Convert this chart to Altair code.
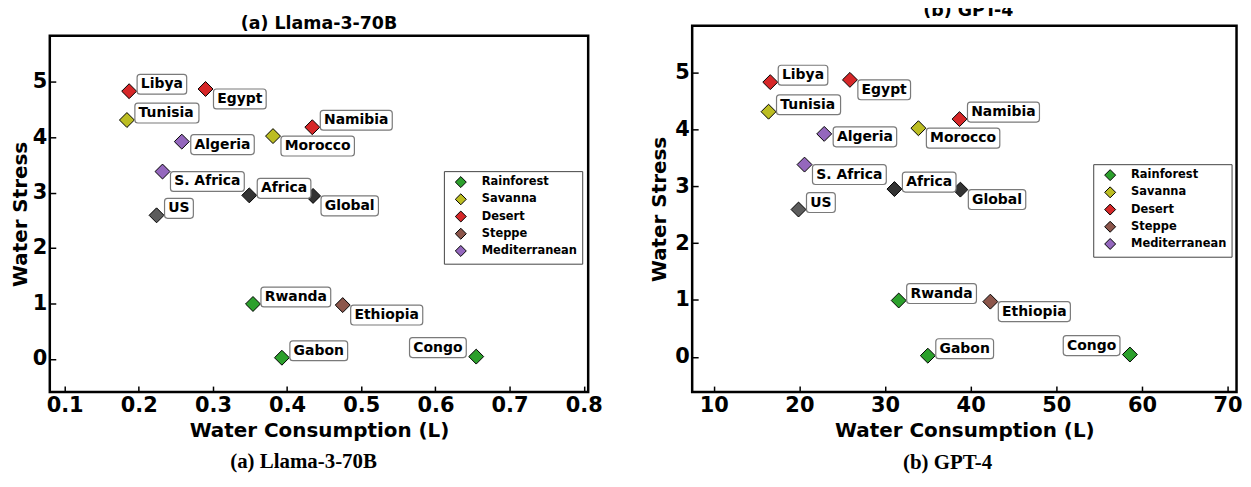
import altair as alt
import pandas as pd

# ---------------- data ----------------
countries = ["Libya", "Egypt", "Tunisia", "Namibia", "Morocco", "Algeria", "S. Africa",
             "Africa", "Global", "US", "Rwanda", "Ethiopia", "Gabon", "Congo"]
climate = ["Desert", "Desert", "Savanna", "Desert", "Savanna", "Mediterranean", "Mediterranean",
           "Aggregate", "Aggregate", "Reference", "Rainforest", "Steppe", "Rainforest", "Rainforest"]
water_stress = [4.83, 4.87, 4.31, 4.18, 4.02, 3.92, 3.38, 2.95, 2.94, 2.59, 0.99, 0.97, 0.02, 0.04]
llama_consumption = [0.187, 0.290, 0.184, 0.434, 0.381, 0.258, 0.232, 0.349, 0.435, 0.224,
                     0.354, 0.475, 0.393, 0.655]
gpt4_consumption = [16.6, 25.9, 16.4, 38.7, 33.9, 22.9, 20.6, 31.1, 38.8, 19.9,
                    31.6, 42.3, 35.0, 58.6]
legend_classes = ["Rainforest", "Savanna", "Desert", "Steppe", "Mediterranean"]
llama_ticks = [0.1, 0.2, 0.3, 0.4, 0.5, 0.6, 0.7, 0.8]
gpt4_ticks = [10, 20, 30, 40, 50, 60, 70]
stress_ticks = [0, 1, 2, 3, 4, 5]

# ---------------- style ----------------
label_side = ["ur", "dr", "ur", "ur", "dr", "r", "dr", "ur", "dr", "ur", "ur", "dr", "ur", "ul"]
class_domain = legend_classes + ["Aggregate", "Reference"]
class_colors = ["#2ca02c", "#bcbd22", "#d62728", "#8c564b", "#9467bd", "#333333", "#5c5c5c"]
FONT = "DejaVu Sans"
CAP_FONT = "Liberation Serif"
LABEL_SIZE = 14
CW = {' ': 0.348, '.': 0.380, 'A': 0.774, 'S': 0.720, 'L': 0.637, 'E': 0.683, 'T': 0.682,
      'N': 0.837, 'M': 0.995, 'U': 0.812, 'G': 0.821, 'R': 0.770, 'C': 0.734, 'a': 0.675,
      'b': 0.716, 'c': 0.593, 'd': 0.716, 'e': 0.678, 'f': 0.435, 'g': 0.716, 'h': 0.712,
      'i': 0.343, 'l': 0.343, 'm': 1.042, 'n': 0.712, 'o': 0.687, 'p': 0.716, 'r': 0.493,
      's': 0.595, 't': 0.478, 'u': 0.712, 'w': 0.924, 'y': 0.652, 'k': 0.665}
SIDE = {"ur": (8, -7), "dr": (8, 10), "r": (9, 3), "ul": (-10, -9)}


def text_px(s):
    return sum(CW.get(c, 0.65) for c in s) * LABEL_SIZE


def panel(cons, xdom, ydom, w, h, xticks, xfmt, leg_x, leg_y, ytitle_pad, caption, cap_x, cap_y):
    kx = (xdom[1] - xdom[0]) / w
    ky = (ydom[1] - ydom[0]) / h
    rows = []
    for name, cl, xv, yv, side in zip(countries, climate, cons, water_stress, label_side):
        dx, dy = SIDE[side]
        bw = text_px(name) + 7.5
        if dx >= 0:
            left = xv + dx * kx
        else:
            left = xv + (dx - bw) * kx
        right = left + bw * kx
        cy = yv - dy * ky
        rows.append(dict(country=name, climate=cl, x=xv, y=yv,
                         bx1=left, bx2=right, by1=cy - 10 * ky, by2=cy + 10 * ky,
                         tx=left + 3.75 * kx, ty=cy))
    df = pd.DataFrame(rows)

    xs = alt.Scale(domain=xdom, nice=False, zero=False)
    ys = alt.Scale(domain=ydom, nice=False, zero=False)
    xa = alt.Axis(values=xticks, format=xfmt, labelFont=FONT, labelFontWeight="bold",
                  labelFontSize=21, labelColor="black", tickColor="black", tickWidth=1.5,
                  tickSize=6, offset=-6, domain=False, grid=False, labelPadding=3,
                  labelFlush=False, labelOverlap=False, titleFont=FONT, titleFontSize=20,
                  titleFontWeight="bold", titleColor="black", titlePadding=5)
    ya = alt.Axis(values=stress_ticks, format="d", labelFont=FONT, labelFontWeight="bold",
                  labelFontSize=21, labelColor="black", tickColor="black", tickWidth=1.5,
                  tickSize=6, offset=-6, domain=False, grid=False, labelPadding=3,
                  labelFlush=False, labelOverlap=False, titleFont=FONT, titleFontSize=20,
                  titleFontWeight="bold", titleColor="black", titlePadding=ytitle_pad)
    xt = "Water Consumption (L)"
    yt = "Water Stress"

    def X(f):
        return alt.X(f, type="quantitative", scale=xs, axis=xa, title=xt)

    def Y(f):
        return alt.Y(f, type="quantitative", scale=ys, axis=ya, title=yt)

    base = alt.Chart(df)
    pts = base.mark_point(shape="diamond", filled=True, size=225, stroke="black",
                          strokeWidth=1, opacity=1).encode(
        x=X("x"), y=Y("y"),
        color=alt.Color("climate:N",
                        scale=alt.Scale(domain=class_domain, range=class_colors),
                        legend=alt.Legend(values=legend_classes, title=None, orient="none",
                                          legendX=leg_x, legendY=leg_y, symbolType="diamond",
                                          symbolSize=121, symbolStrokeColor="black",
                                          symbolStrokeWidth=1, labelFont=FONT,
                                          labelFontWeight="bold", labelFontSize=11.5,
                                          labelColor="black", strokeColor="#444444",
                                          fillColor="white", padding=5, symbolOffset=6,
                                          labelOffset=15, rowPadding=1.3, cornerRadius=0)))
    boxes = base.mark_rect(fill="white", stroke="#7a7a7a", strokeWidth=1.2,
                           cornerRadius=3).encode(
        x=X("bx1"), x2="bx2", y=Y("by1"), y2="by2")
    texts = base.mark_text(align="left", baseline="middle", font=FONT, fontWeight="bold",
                           fontSize=LABEL_SIZE, color="black").encode(
        x=X("tx"), y=Y("ty"), text="country:N")
    cap = alt.Chart(pd.DataFrame({"caption": [caption]})).mark_text(
        font=CAP_FONT, fontWeight="bold", fontSize=21, color="black",
        baseline="alphabetic", align="center").encode(
        x=alt.value(cap_x), y=alt.value(cap_y), text="caption:N")
    return alt.layer(pts, boxes, texts, cap).properties(width=w, height=h)


def title_chart(txt, w, h, ty, tx):
    return alt.Chart(pd.DataFrame({"t": [txt]})).mark_text(
        font=FONT, fontWeight="bold", fontSize=17.5, color="black",
        baseline="middle", align="center").encode(
        x=alt.value(tx), y=alt.value(ty), text="t:N").properties(
        width=w, height=h, view=alt.ViewBackground(stroke="transparent"))


LW, LH = 541, 358
RW, RH = 547, 368
left_panel = panel(llama_consumption, [0.08, 0.806], [-0.60, 5.83], LW, LH, llama_ticks, ".1f",
                   396, 136, 2, "(a) Llama-3-70B", 255, 434.7)
right_panel = panel(gpt4_consumption, [7.48, 71.05], [-0.62, 5.82], RW, RH, gpt4_ticks, "d",
                    403, 139, 5, "(b) GPT-4", 256.6, 445)

left_col = alt.vconcat(title_chart("(a) Llama-3-70B", LW, 36.3, 36.3 - 8.2, LW / 2), left_panel,
                       spacing=0).resolve_scale(
    x="independent", y="independent", color="independent").resolve_legend(color="independent")
right_col = alt.vconcat(title_chart("(b) GPT-4", RW, 26, 26 - 10.5, 277.5), right_panel,
                        spacing=0).resolve_scale(
    x="independent", y="independent", color="independent").resolve_legend(color="independent")

chart = alt.hconcat(left_col, right_col, spacing=44.5).resolve_scale(
    x="independent", y="independent", color="independent").resolve_legend(
    color="independent").properties(
    padding={"left": 1, "top": -15.2, "right": -1, "bottom": 0},
    background="white").configure_view(stroke="black", strokeWidth=2.5)

chart.save("out.html", embed_options={"renderer": "svg", "actions": False})
